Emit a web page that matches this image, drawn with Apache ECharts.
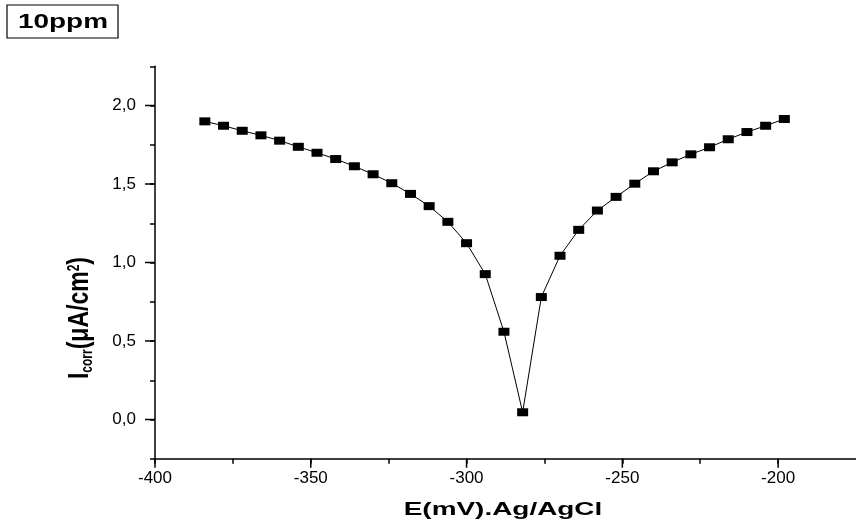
<!DOCTYPE html>
<html>
<head>
<meta charset="utf-8">
<script src="https://cdn.jsdelivr.net/npm/echarts@6/dist/echarts.min.js"></script>
<style>
html,body{margin:0;padding:0;background:#fff;}
#chart{width:856px;height:527px;}
</style>
</head>
<body>
<div id="chart"></div>
<script>
// ---- data ----
const xValues = [-384,-378,-372,-366,-360,-354,-348,-342,-336,-330,-324,-318,-312,-306,-300,-294,-288,-282,
                 -276,-270,-264,-258,-252,-246,-240,-234,-228,-222,-216,-210,-204,-198];
const yValues = [1.899,1.871,1.839,1.810,1.776,1.737,1.699,1.659,1.613,1.562,1.505,1.437,1.359,1.259,1.123,0.926,0.559,0.046,
                 0.780,1.043,1.208,1.331,1.418,1.502,1.581,1.638,1.689,1.734,1.785,1.831,1.871,1.914];
const xTickLabels = [-400,-350,-300,-250,-200];
const yTickLabels = [0.0,0.5,1.0,1.5,2.0];
const xRange = [-400,-175];
const yRange = [-0.25,2.25];
const chartTitle = '10ppm';
const xAxisTitle = 'E(mV).Ag/AgCl';

const FONT = 'Liberation Sans';
const seriesData = xValues.map((x,i)=>[x,yValues[i]]);

function isMajor(v, list){ return list.some(t=>Math.abs(t-v)<1e-6); }

const chart = echarts.init(document.getElementById('chart'), null, {renderer:'canvas'});
chart.setOption({
  animation:false,
  backgroundColor:'#fff',
  grid:{left:155, right:-6.5, top:66.25, bottom:68.25, containLabel:false},
  xAxis:{
    type:'value', min:xRange[0], max:xRange[1], interval:25,
    axisLine:{onZero:false, lineStyle:{color:'#000', width:1.5}},
    axisTick:{show:true, length:5, lineStyle:{color:'#000', width:1.5}},
    splitLine:{show:false},
    axisLabel:{
      margin:11, color:'#000', fontFamily:FONT, fontSize:17,
      showMinLabel:true, showMaxLabel:false,
      formatter:v=> isMajor(v,xTickLabels) ? String(v) : ''
    }
  },
  yAxis:{
    type:'value', min:yRange[0], max:yRange[1], interval:0.25,
    axisLine:{onZero:false, lineStyle:{color:'#000', width:1.5}},
    axisTick:{show:true, length:5, lineStyle:{color:'#000', width:1.5}},
    splitLine:{show:false},
    axisLabel:{
      margin:19, color:'#000', fontFamily:FONT, fontSize:17,
      formatter:v=> isMajor(v,yTickLabels) ? v.toFixed(1).replace('.',',') : ''
    }
  },
  series:[
    {
      type:'line', data:seriesData, symbol:'rect', symbolSize:[11,8],
      lineStyle:{color:'#000', width:1},
      itemStyle:{color:'#000'},
      z:3
    },
    {
      type:'custom', silent:true, clip:false, z:4,
      data:xTickLabels.map(v=>[v, yRange[0]]),
      renderItem:(params, api)=>{
        const p = api.coord([api.value(0), api.value(1)]);
        return {type:'line', shape:{x1:p[0], y1:p[1], x2:p[0], y2:p[1]+9},
                style:{stroke:'#000', lineWidth:1.5}};
      }
    },
    {
      type:'custom', silent:true, clip:false, z:4,
      data:yTickLabels.map(v=>[xRange[0], v]),
      renderItem:(params, api)=>{
        const p = api.coord([api.value(0), api.value(1)]);
        return {type:'line', shape:{x1:p[0]-10, y1:p[1], x2:p[0], y2:p[1]},
                style:{stroke:'#000', lineWidth:1.5}};
      }
    }
  ],
  graphic:[
    {type:'rect', shape:{x:7, y:5, width:111, height:33},
     style:{fill:'#fff', stroke:'#000', lineWidth:1.2}},
    {type:'text', x:63, y:22, scaleX:1.33,
     style:{text:chartTitle, fontFamily:FONT, fontWeight:'bold', fontSize:21,
            fill:'#000', align:'center', verticalAlign:'middle'}},
    {type:'text', x:503, y:510, scaleX:1.47,
     style:{text:xAxisTitle, fontFamily:FONT, fontWeight:'bold', fontSize:19,
            fill:'#000', align:'center', verticalAlign:'middle'}},
    {type:'text', x:80, y:318, rotation:Math.PI/2, scaleY:1.3,
     style:{text:'{b|I}{s|corr}{b|(μA/cm}{p|2}{b|)}',
            align:'center', verticalAlign:'middle',
            rich:{
              b:{fontFamily:FONT, fontWeight:'bold', fontSize:23, fill:'#000', lineHeight:28, verticalAlign:'middle'},
              s:{fontFamily:FONT, fontWeight:'bold', fontSize:12, fill:'#000', lineHeight:28, verticalAlign:'bottom', padding:[0,0,2,0]},
              p:{fontFamily:FONT, fontWeight:'bold', fontSize:12, fill:'#000', lineHeight:28, verticalAlign:'top', padding:[4,0,0,0]}
            }}}
  ]
});
</script>
</body>
</html>
